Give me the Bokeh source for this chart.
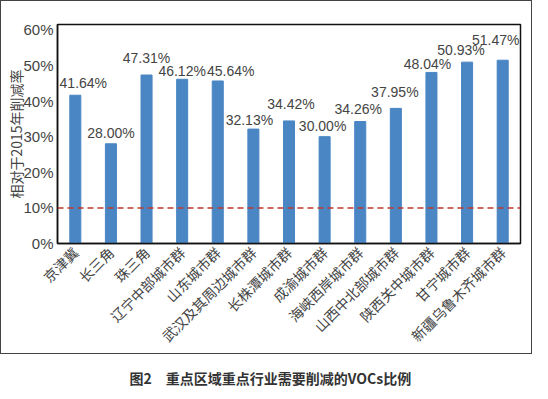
from bokeh.plotting import figure
from bokeh.layouts import column
from bokeh.models import ColumnDataSource, PrintfTickFormatter, FixedTicker, Span
from bokeh.core.properties import value
from bokeh.embed import file_html
from bokeh.resources import INLINE
import math

regions = ["京津冀", "长三角", "珠三角", "辽宁中部城市群", "山东城市群", "武汉及其周边城市群",
           "长株潭城市群", "成渝城市群", "海峡西岸城市群", "山西中北部城市群", "陕西关中城市群",
           "甘宁城市群", "新疆乌鲁木齐城市群"]
reduction = [41.64, 28.00, 47.31, 46.12, 45.64, 32.13, 34.42, 30.00, 34.26, 37.95, 48.04, 50.93, 51.47]
labels = [f"{v:.2f}%" for v in reduction]
y_ticks = [0, 10, 20, 30, 40, 50, 60]
threshold = 10

# label nudges (screen px) to avoid overlapping value labels, as in the original
label_dx = [8, 0, 0, 0, 13, -4, 2, -2, -2, -1, -4, -6, -7]
label_dy = [-12, -11, -17, -8, -10, -9, -17, -11, -13, -16, -8, -12, -20]

FONT = "Noto Sans CJK SC"
NUMFONT = "Liberation Sans"

src = ColumnDataSource(dict(x=regions, top=reduction, lab=labels, dx=label_dx, dy=label_dy))

p = figure(x_range=regions, y_range=(0, 61.5), width=532, height=354,
           output_backend="svg", toolbar_location=None,
           min_border_left=56, min_border_right=13, min_border_top=23, min_border_bottom=112)
p.vbar(x="x", top="top", width=0.31, source=src, color="#4a86c4")
p.text(x="x", y="top", text="lab", source=src, text_align="center", text_baseline="middle",
       x_offset="dx", y_offset="dy", text_font=value(NUMFONT), text_font_size="14px",
       text_color="#444444")

p.add_layout(Span(location=threshold, dimension="width", line_color="#c0392b",
                  line_dash="6 4", line_width=1.5))

p.xgrid.visible = False
p.ygrid.visible = False
p.outline_line_color = "#111111"
p.outline_line_width = 1.5

p.yaxis.ticker = FixedTicker(ticks=y_ticks)
p.yaxis.formatter = PrintfTickFormatter(format="%d%%")
p.yaxis.axis_label = "相对于2015年削减率"
p.yaxis.axis_label_text_font = FONT
p.yaxis.axis_label_text_font_style = "normal"
p.yaxis.axis_label_text_font_size = "14px"
p.yaxis.axis_label_text_color = "#444444"
p.yaxis.axis_label_standoff = -6
for ax in (p.xaxis, p.yaxis):
    ax.major_label_text_color = "#444444"
    ax.major_tick_out = 0
    ax.major_tick_in = 0
    ax.minor_tick_out = 0
    ax.minor_tick_in = 0
    ax.axis_line_color = "#111111"
    ax.axis_line_width = 1.5
p.yaxis.major_label_text_font = NUMFONT
p.yaxis.major_label_text_font_size = "15px"
p.yaxis.major_label_standoff = 4
p.xaxis.major_label_text_font = FONT
p.xaxis.major_label_text_font_size = "14px"
p.xaxis.major_label_orientation = math.pi / 4
p.xaxis.major_label_standoff = 6
p.styles = {"border": "1px solid #444444"}

cap = figure(width=532, height=36, output_backend="svg", toolbar_location=None,
             x_range=(0, 1), y_range=(0, 1), min_border=0)
cap.axis.visible = False
cap.grid.visible = False
cap.outline_line_color = None
cap.text(x=[0.462], y=[0.34], text=["图2\u3000重点区域重点行业需要削减的VOCs比例"],
         text_align="center", text_baseline="middle", text_font=value(FONT),
         text_font_size="14px", text_font_style="bold", text_color="#333333")

layout = column(p, cap, spacing=0)
open("out.html", "w").write(file_html(layout, INLINE))
